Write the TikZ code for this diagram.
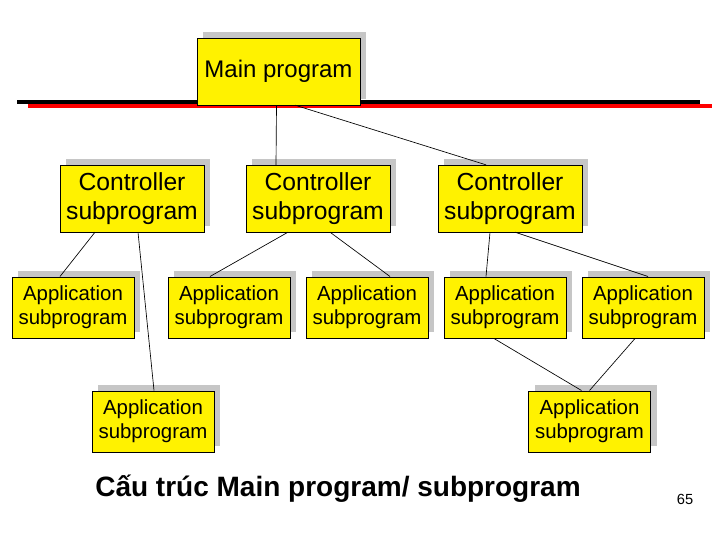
\documentclass[tikz,border=0pt]{standalone}
\usepackage{fontspec}
\setmainfont{Liberation Sans}
\usetikzlibrary{shadows,calc}
\begin{document}
\begin{tikzpicture}[x=0.75pt,y=-0.75pt,
  box/.style={draw=black,line width=0.5pt,fill=yellow,inner sep=0pt,align=center,
    drop shadow={shadow xshift=4.5pt,shadow yshift=4.5pt,fill=gray!45,opacity=1}},
  ctrl/.style={box,minimum width=108pt,minimum height=50pt,font=\fontsize{18.5}{21.75}\selectfont},
  app/.style={box,minimum width=91.5pt,minimum height=46pt,font=\fontsize{15.3}{18}\selectfont},
  con/.style={line width=0.5pt}]
\useasboundingbox (0,0) rectangle (720,540);
\fill[black] (17,100) rectangle (700,104);
\fill[red] (28,104) rectangle (712,108);
\node[box,minimum width=122pt,minimum height=50pt,font=\fontsize{18}{21}\selectfont] (m) at (278.5,71.5) {Main program};
\node[ctrl] (c1) at (132,198.5) {Controller\\subprogram};
\node[ctrl] (c2) at (318,198.5) {Controller\\subprogram};
\node[ctrl] (c3) at (510,198.5) {Controller\\subprogram};
\node[app] (a1) at (73,307.5) {Application\\subprogram};
\node[app] (a2) at (229,307.5) {Application\\subprogram};
\node[app] (a3) at (367,307.5) {Application\\subprogram};
\node[app] (a4) at (505,307.5) {Application\\subprogram};
\node[app] (a5) at (643,307.5) {Application\\subprogram};
\node[app] (a6) at (153,421.5) {Application\\subprogram};
\node[app] (a7) at (589.5,421.5) {Application\\subprogram};
\node[font=\bfseries\fontsize{21}{23}\selectfont] (t) at (338,489) {Cấu trúc Main program/ subprogram};
\node[font=\fontsize{11}{13}\selectfont] (p) at (685,499) {65};
\draw[con] ([xshift=-1.5pt]m.south) -- ([xshift=-31.5pt]c2.north);
\draw[con] ([xshift=12.4pt]m.south) -- ([xshift=-18pt]c3.north);
\draw[con] ([xshift=-27.75pt]c1.south) -- ([xshift=-9.75pt]a1.north);
\draw[con] ([xshift=4.5pt]c1.south) -- ([xshift=0.75pt]a6.north);
\draw[con] ([xshift=-22.5pt]c2.south) -- ([xshift=-14.25pt]a2.north);
\draw[con] ([xshift=9pt]c2.south) -- ([xshift=17.25pt]a3.north);
\draw[con] ([xshift=-15pt]c3.south) -- ([xshift=-14.25pt]a4.north);
\draw[con] ([xshift=3.75pt]c3.south) -- ([xshift=3.75pt]a5.north);
\draw[con] ([xshift=-8.25pt]a4.south) -- ([xshift=-6pt]a7.north);
\draw[con] ([xshift=-6pt]a5.south) -- ([xshift=0pt]a7.north);
\end{tikzpicture}
\end{document}
